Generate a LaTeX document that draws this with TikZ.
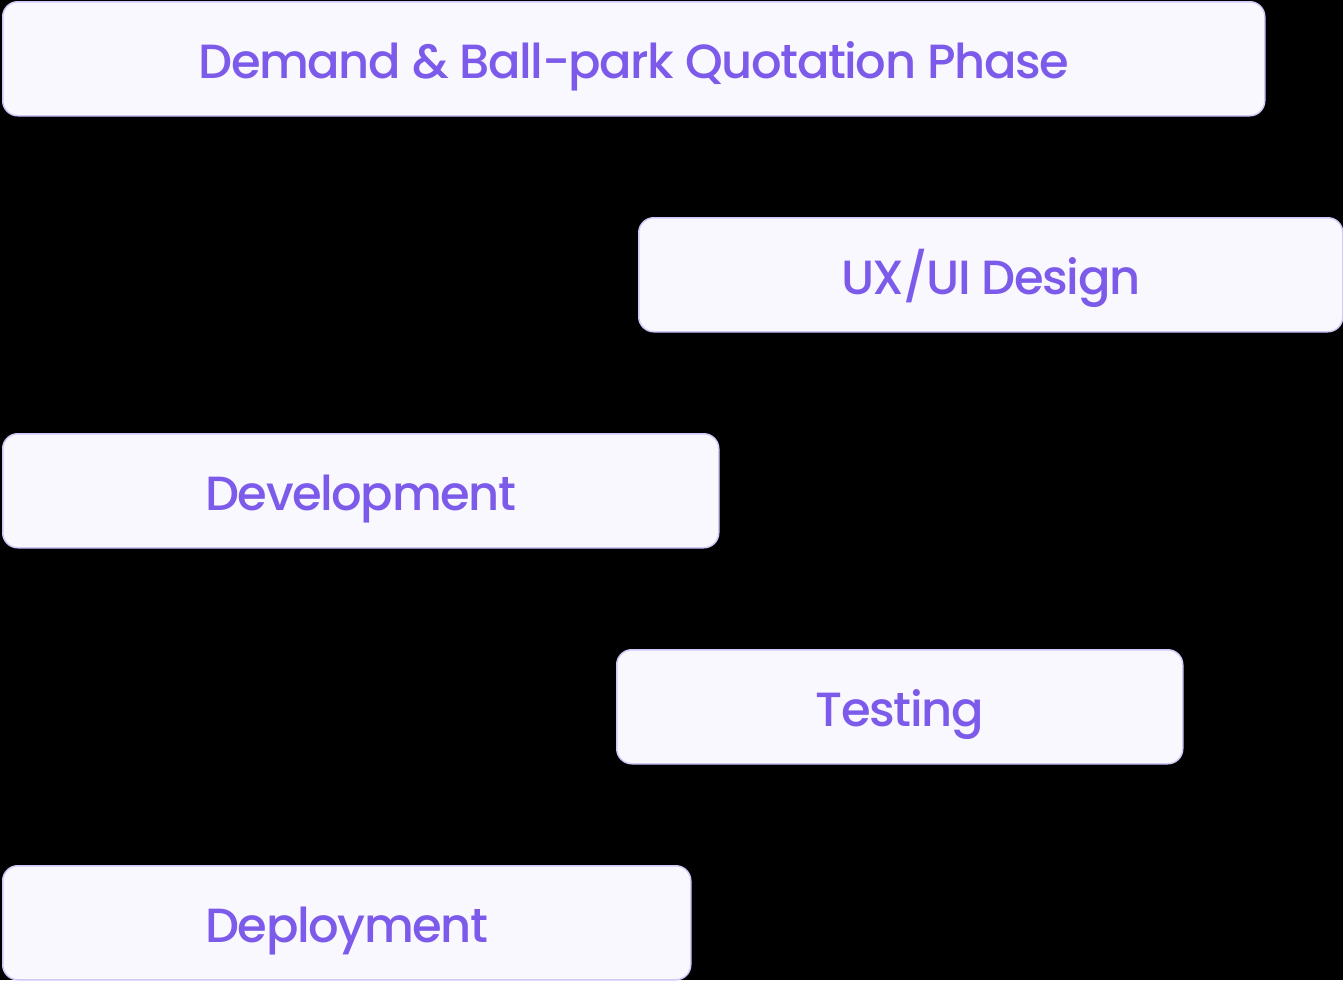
\documentclass[tikz,border=0pt]{standalone}
\usepackage{fontspec}
\setmainfont{Poppins}[UprightFont=* Medium, LetterSpace=-3]
\usepackage{tikz}

\definecolor{phasetext}{RGB}{124,91,234}
\definecolor{phasefill}{RGB}{249,248,254}
\definecolor{phaseline}{RGB}{208,200,246}

\tikzset{
    phase/.style={draw=phaseline, line width=0.75pt, fill=phasefill, rounded corners=7.5pt,
        anchor=north west, minimum height=57pt, inner sep=0pt,
        text height=20pt, text depth=0pt,
        text=phasetext, font=\fontsize{24}{28}\selectfont}
}

\begin{document}
\begin{tikzpicture}[x=0.5pt, y=-0.5pt]
                % Background
                \fill[black] (0,0) rectangle (1343,980);
                \useasboundingbox (0,0) rectangle (1343,980);

                % Phases
                \node[phase, minimum width=631pt] (demand) at (2,1) {Demand \& Ball-park Quotation Phase};
                \node[phase, minimum width=352pt] (uxui) at (638,217) {UX/UI Design};
                \node[phase, minimum width=358pt] (dev) at (2,433) {Development};
                \node[phase, minimum width=283pt] (testing) at (616,649) {Testing};
                \node[phase, minimum width=344pt] (deploy) at (2,865) {Deployment};
            \end{tikzpicture}
\end{document}
